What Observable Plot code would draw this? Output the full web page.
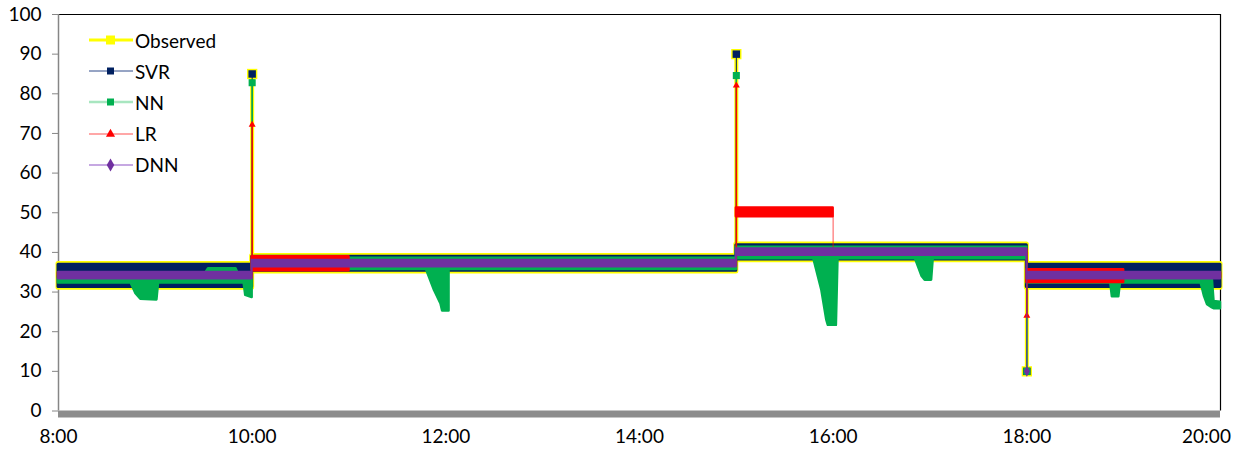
<!DOCTYPE html>
<html>
<head>
<meta charset="utf-8">
<script src="https://cdn.jsdelivr.net/npm/d3@7"></script>
<script src="https://cdn.jsdelivr.net/npm/@observablehq/plot@0.6"></script>
<style>
  body { margin: 0; background: #fff; font-family: Lato, "Open Sans", sans-serif; }
  #chart { position: relative; width: 1240px; height: 451px; }
  #legend { position: absolute; left: 88px; top: 24.5px; }
  .row { display: flex; align-items: center; height: 31.2px; font-size: 19px; color: #000; }
  .row svg { width: 46px; height: 20px; margin-right: 1px; overflow: visible; }
</style>
</head>
<body>
<div id="chart"><div id="legend"></div></div>
<script>
// Series colours
const colors = { Observed: "#ffff00", SVR: "#002060", NN: "#00b050", LR: "#ff0000", DNN: "#7030a0" };

// Axis ticks
const yTicks = [0, 10, 20, 30, 40, 50, 60, 70, 80, 90, 100];
const xTickHours = [8, 10, 12, 14, 16, 18, 20];

// Spread of each series over time: [time, low, high], one list per run
const observedBand = [
  [["8:00", 31.1, 37.1], ["10:00", 31.1, 37.1],
   ["10:00", 35.2, 39.1], ["15:00", 35.2, 39.1],
   ["15:00", 38.0, 42.0], ["18:00", 38.0, 42.0],
   ["18:00", 31.1, 37.1], ["20:00", 31.1, 37.1]]
];
const svrBand = [
  [["8:00", 31.3, 36.9], ["10:00", 31.3, 36.9],
   ["10:00", 35.4, 38.9], ["15:00", 35.4, 38.9],
   ["15:00", 38.2, 41.8], ["18:00", 38.2, 41.8],
   ["18:00", 31.3, 36.9], ["20:00", 31.3, 36.9]]
];
const nnBand = [
  [["8:00", 32.3, 34.0], ["8:45", 32.3, 34.0], ["8:48", 29.6, 34.0], ["8:51", 28.2, 34.0],
   ["9:01", 28.0, 34.0], ["9:02", 32.3, 34.0], ["9:30", 32.3, 34.0], ["9:33", 32.3, 35.9],
   ["9:50", 32.3, 35.9], ["9:52", 32.3, 34.0], ["9:55", 32.3, 34.0], ["9:56", 29.2, 34.0],
   ["10:00", 28.6, 34.0]],
  [["10:00", 35.7, 38.5], ["11:48", 35.7, 38.5], ["11:53", 30.4, 38.5], ["11:57", 27.0, 38.5],
   ["11:58", 25.2, 38.5], ["12:02", 25.2, 38.5], ["12:02", 35.7, 38.5],
   ["15:00", 35.7, 38.5]],
  [["15:00", 38.4, 41.3], ["15:48", 38.4, 41.3], ["15:53", 30.4, 41.3], ["15:56", 23.0, 41.3],
   ["15:57", 21.6, 41.3], ["16:02", 21.6, 41.3], ["16:03", 38.4, 41.3], ["16:51", 38.4, 41.3],
   ["16:55", 34.0, 41.3], ["16:57", 33.0, 41.3], ["17:01", 33.0, 41.3], ["17:02", 38.4, 41.3],
   ["18:00", 38.4, 41.3]],
  [["18:00", 32.3, 34.2], ["18:52", 32.3, 34.2], ["18:53", 28.8, 34.2], ["18:57", 28.8, 34.2],
   ["18:58", 32.3, 34.2], ["19:48", 32.3, 34.2], ["19:50", 29.0, 34.2], ["19:52", 26.8, 34.2],
   ["19:55", 26.0, 33.0], ["19:56", 25.8, 27.6], ["20:00", 25.8, 27.4]]
];
const lrBand = [
  [["8:00", 33.6, 34.8], ["10:00", 33.6, 34.8]],
  [["10:00", 35.4, 38.9], ["11:00", 35.4, 38.9]],
  [["11:00", 36.6, 37.8], ["15:00", 36.6, 37.8]],
  [["15:00", 49.0, 51.2], ["16:00", 49.0, 51.2]],
  [["16:00", 39.5, 40.6], ["18:00", 39.5, 40.6]],
  [["18:00", 32.4, 35.6], ["19:00", 32.4, 35.6]],
  [["19:00", 33.6, 34.8], ["20:00", 33.6, 34.8]]
];
const dnnBand = [
  [["8:00", 33.3, 35.0], ["10:00", 33.3, 35.0],
   ["10:00", 36.3, 38.0], ["15:00", 36.3, 38.0],
   ["15:00", 39.2, 40.9], ["18:00", 39.2, 40.9],
   ["18:00", 33.3, 35.0], ["20:00", 33.3, 35.0]]
];

// Isolated readings: [time, level before, value]
const observedSpikes = [["10:00", 36.0, 85.0], ["15:00", 38.0, 90.0], ["18:00", 40.0, 10.0]];
const svrSpikes      = [["10:00", 36.0, 85.0], ["15:00", 38.0, 90.0], ["18:00", 40.0, 10.0]];
const nnSpikes       = [["10:00", 36.0, 82.8], ["15:00", 38.0, 84.6], ["18:00", 40.0, 10.0]];
const lrSpikes       = [["10:00", 36.0, 72.2], ["15:00", 37.5, 82.1], ["18:00", 40.0, 24.0]];
const dnnSpikes      = [["18:00", 40.0, 10.0]];

// LR step from the 50 level back to the band at 16:00
const lrSteps = [["16:00", 49.0, 40.2]];

const hour = s => { const [h, m] = s.split(":"); return +h + (+m) / 60; };
const bandRows = runs => runs.flatMap((run, i) => run.map(([t, lo, hi]) => ({ t: hour(t), lo, hi, run: i })));
const spikeRows = list => list.map(([t, from, to]) => ({ t: hour(t), from, to }));

const band = (runs, color, w) =>
  Plot.areaY(bandRows(runs), { x: "t", y1: "lo", y2: "hi", z: "run", fill: color, stroke: color,
    strokeWidth: w, strokeLinejoin: "round", curve: "linear" });

const fmt = h => `${h}:00`;

const chart = Plot.plot({
  width: 1240,
  height: 451,
  marginLeft: 58,
  marginRight: 20,
  marginTop: 14,
  marginBottom: 40.5,
  x: { domain: [8, 20] },
  y: { domain: [0, 100] },
  style: { fontFamily: "Lato, 'Open Sans', sans-serif", fontSize: "19px", color: "#000", background: "#fff" },
  marks: [
    // axes and frame
    Plot.axisY(yTicks, { tickSize: 6, tickPadding: 11, stroke: "#868686", label: null, fill: "#000" }),
    Plot.axisX(xTickHours.slice(0, -1), { tickSize: 0, tickPadding: 18, tickFormat: fmt, label: null, fill: "#000" }),
    Plot.axisX(xTickHours.slice(-1), { tickSize: 0, tickPadding: 18, tickFormat: fmt, label: null, dx: -14, fill: "#000" }),
    Plot.ruleY([100], { stroke: "#000", strokeWidth: 1 }),
    Plot.ruleX([20], { stroke: "#000", strokeWidth: 1.2 }),
    Plot.ruleX([8], { stroke: "#868686", strokeWidth: 1.5 }),
    Plot.ruleY([0], { stroke: "#8c8c8c", strokeWidth: 7, dy: 3 }),

    // Observed
    band(observedBand, colors.Observed, 5),
    Plot.ruleX(spikeRows(observedSpikes), { x: "t", y1: "from", y2: "to", stroke: colors.Observed, strokeWidth: 4 }),
    Plot.dot(spikeRows(observedSpikes), { x: "t", y: "to", symbol: "square", r: 5.8, fill: colors.Observed }),

    // SVR
    band(svrBand, colors.SVR, 3),
    Plot.ruleX(spikeRows(svrSpikes), { x: "t", y1: "from", y2: "to", stroke: colors.SVR, strokeWidth: 1 }),
    Plot.dot(spikeRows(svrSpikes), { x: "t", y: "to", symbol: "square", r: 4.2, fill: colors.SVR }),

    // NN
    band(nnBand, colors.NN, 2.5),
    Plot.ruleX(spikeRows(nnSpikes), { x: "t", y1: "from", y2: "to", stroke: colors.NN, strokeWidth: 1.5 }),
    Plot.dot(spikeRows(nnSpikes), { x: "t", y: "to", symbol: "square", r: 4.0, fill: colors.NN }),

    // LR
    band(lrBand, colors.LR, 2.5),
    Plot.ruleX(spikeRows(lrSteps), { x: "t", y1: "from", y2: "to", stroke: colors.LR, strokeOpacity: 0.45, strokeWidth: 1.5 }),
    Plot.ruleX(spikeRows(lrSpikes), { x: "t", y1: "from", y2: "to", stroke: colors.LR, strokeWidth: 1.5 }),
    Plot.dot(spikeRows(lrSpikes), { x: "t", y: "to", symbol: "triangle", r: 2.6, fill: colors.LR }),

    // DNN
    band(dnnBand, colors.DNN, 2),
    Plot.ruleX(spikeRows(dnnSpikes), { x: "t", y1: "from", y2: "to", stroke: colors.DNN, strokeWidth: 1 }),
    Plot.dot(spikeRows(dnnSpikes), { x: "t", y: "to", symbol: "diamond", r: 3.2, fill: colors.DNN })
  ]
});
document.getElementById("chart").prepend(chart);

// Legend
const legendItems = [
  { name: "Observed", line: "#ffff00", lw: 3, marker: "square", size: 9, fill: colors.Observed },
  { name: "SVR", line: "#2f4a8a", lw: 1, marker: "square", size: 7, fill: colors.SVR },
  { name: "NN", line: "#a8e6c0", lw: 2.5, marker: "square", size: 7, fill: colors.NN },
  { name: "LR", line: "#ff8a8a", lw: 1.5, marker: "triangle", size: 6, fill: colors.LR },
  { name: "DNN", line: "#c6a8e2", lw: 2, marker: "diamond", size: 7, fill: colors.DNN }
];
const legend = d3.select("#legend");
for (const it of legendItems) {
  const row = legend.append("div").attr("class", "row");
  const svg = row.append("svg");
  svg.append("line").attr("x1", 1).attr("x2", 45).attr("y1", 10).attr("y2", 10)
    .attr("stroke", it.line).attr("stroke-width", it.lw);
  const sym = { square: d3.symbolSquare, triangle: d3.symbolTriangle, diamond: d3.symbolDiamond }[it.marker];
  svg.append("path").attr("transform", "translate(22.5,10)")
    .attr("d", d3.symbol(sym, it.size * it.size)()).attr("fill", it.fill);
  row.append("span").text(it.name);
}
</script>
</body>
</html>
